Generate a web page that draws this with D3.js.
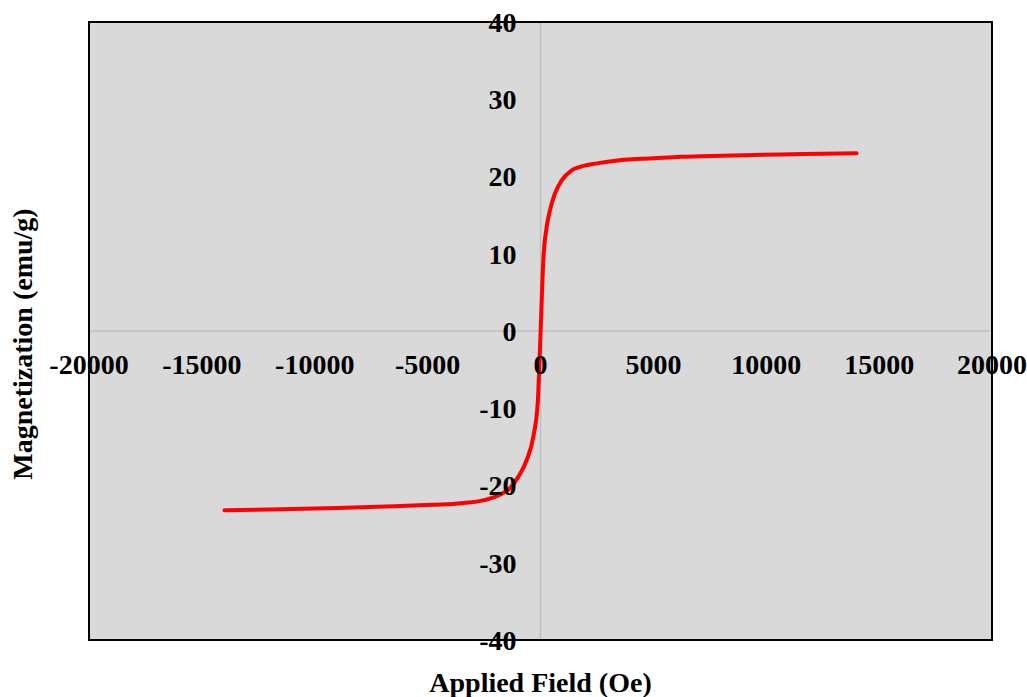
<!DOCTYPE html>
<html>
<head>
<meta charset="utf-8">
<script src="https://cdn.jsdelivr.net/npm/d3@7"></script>
<style>
  body { margin: 0; background: #fff; }
  svg { display: block; }
  text { font-family: "Liberation Serif", "Times New Roman", serif; font-weight: bold; }
</style>
</head>
<body>
<svg></svg>
<script>
const svgWidth = 1027;
const svgHeight = 697;
const plot = { left: 89, right: 992, top: 22, bottom: 640 };

// M-H loop
const fieldOe = [-14000, -12000, -9000, -6500, -4800, -3500, -2500, -1800, -1350, -980, -610, -320, -125, 0,
  125, 275, 420, 640, 940, 1380, 1750, 2500, 3500, 5000, 6200, 8000, 10600, 12500, 14000];
const magnetization = [-23.2, -23.1, -22.9, -22.7, -22.5, -22.3, -21.9, -21.2, -20.35, -18.85, -16.7, -13.7, -9.4, -0.5,
  9.2, 13.5, 15.65, 17.8, 19.5, 20.8, 21.25, 21.7, 22.1, 22.35, 22.55, 22.7, 22.86, 22.93, 23.0];

const xTicks = [-20000, -15000, -10000, -5000, 0, 5000, 10000, 15000, 20000];
const yTicks = [-40, -30, -20, -10, 0, 10, 20, 30, 40];

const svg = d3.select("svg")
        .attr("width", svgWidth)
        .attr("height", svgHeight);

let xScale = d3.scaleLinear()
        .domain([-20000, 20000])
        .range([plot.left, plot.right]);
let yScale = d3.scaleLinear()
        .domain([-40, 40])
        .range([plot.bottom, plot.top]);

// Plot area
svg.append("rect")
    .attr("x", plot.left)
    .attr("y", plot.top)
    .attr("width", plot.right - plot.left)
    .attr("height", plot.bottom - plot.top)
    .attr("fill", "#d9d9d9");

// Zero lines
svg.append("line")
    .attr("x1", plot.left).attr("x2", plot.right)
    .attr("y1", yScale(0)).attr("y2", yScale(0))
    .attr("stroke", "#bfbfbf").attr("stroke-width", 1.5);
svg.append("line")
    .attr("x1", xScale(0)).attr("x2", xScale(0))
    .attr("y1", plot.top).attr("y2", plot.bottom)
    .attr("stroke", "#bfbfbf").attr("stroke-width", 1.5);

// Border
svg.append("rect")
    .attr("x", plot.left)
    .attr("y", plot.top)
    .attr("width", plot.right - plot.left)
    .attr("height", plot.bottom - plot.top)
    .attr("fill", "none")
    .attr("stroke", "#000")
    .attr("stroke-width", 2);

// Curve
let line = d3.line()
        .x((d, i) => xScale(fieldOe[i]))
        .y(d => yScale(d))
        .curve(d3.curveMonotoneX);

svg.append("path")
    .datum(magnetization)
    .attr("d", line)
    .attr("fill", "none")
    .attr("stroke", "#ff0000")
    .attr("stroke-width", 4)
    .attr("stroke-linecap", "round");

// Tick labels along the zero axes
svg.append("g")
    .selectAll("text")
    .data(xTicks)
    .enter()
    .append("text")
    .text(d => d)
    .attr("x", d => xScale(d))
    .attr("y", yScale(0) + 33)
    .attr("dy", "0.35em")
    .attr("font-size", 28)
    .attr("text-anchor", "middle");

svg.append("g")
    .selectAll("text")
    .data(yTicks)
    .enter()
    .append("text")
    .text(d => d)
    .attr("x", xScale(0) - 24)
    .attr("y", d => yScale(d))
    .attr("dy", "0.35em")
    .attr("font-size", 28)
    .attr("text-anchor", "end");

// Axes labels
svg.append("text")
    .text("Applied Field (Oe)")
    .attr("x", (plot.left + plot.right) / 2)
    .attr("y", 692)
    .attr("font-size", 28)
    .attr("text-anchor", "middle");

svg.append("text")
    .text("Magnetization (emu/g)")
    .attr("transform", "rotate(-90)")
    .attr("x", -344)
    .attr("y", 22)
    .attr("dy", "0.35em")
    .attr("font-size", 28)
    .attr("text-anchor", "middle");
</script>
</body>
</html>
